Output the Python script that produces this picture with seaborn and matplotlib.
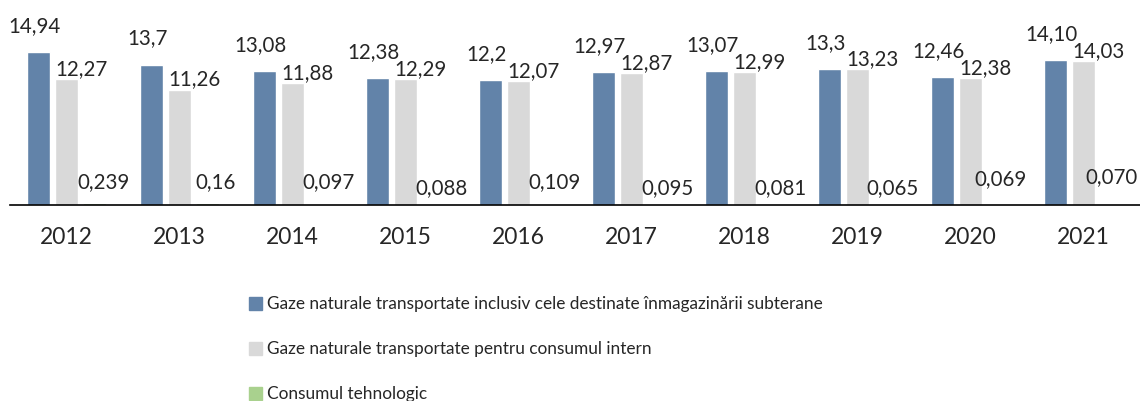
import pandas as pd
import matplotlib
matplotlib.use("Agg")
import matplotlib.pyplot as plt
import seaborn as sns

# data
years = ["2012", "2013", "2014", "2015", "2016", "2017", "2018", "2019", "2020", "2021"]
transportate = [14.94, 13.7, 13.08, 12.38, 12.2, 12.97, 13.07, 13.3, 12.46, 14.10]
consum_intern = [12.27, 11.26, 11.88, 12.29, 12.07, 12.87, 12.99, 13.23, 12.38, 14.03]
consum_tehnologic = [0.239, 0.16, 0.097, 0.088, 0.109, 0.095, 0.081, 0.065, 0.069, 0.070]

lbl_transportate = ["14,94", "13,7", "13,08", "12,38", "12,2", "12,97", "13,07", "13,3", "12,46", "14,10"]
lbl_intern = ["12,27", "11,26", "11,88", "12,29", "12,07", "12,87", "12,99", "13,23", "12,38", "14,03"]
lbl_tehnologic = ["0,239", "0,16", "0,097", "0,088", "0,109", "0,095", "0,081", "0,065", "0,069", "0,070"]

series_names = [
    "Gaze naturale transportate inclusiv cele destinate înmagazinării subterane",
    "Gaze naturale transportate pentru consumul intern",
    "Consumul tehnologic",
]
colors = ["#6283A9", "#D9D9D9", "#A9D18E"]

df = pd.DataFrame({
    "an": years * 3,
    "serie": [series_names[0]] * 10 + [series_names[1]] * 10 + [series_names[2]] * 10,
    "valoare": transportate + consum_intern + consum_tehnologic,
})

sns.set_style("white")
plt.rcParams["font.family"] = ["Lato", "DejaVu Sans"]

fig = plt.figure(figsize=(11.4, 4.01), dpi=100)
ax = fig.add_axes([10 / 1140, 1 - 205 / 401, 1 - 10 / 1140, 205 / 401])

sns.barplot(data=df, x="an", y="valoare", hue="serie", hue_order=series_names,
            palette=colors, width=0.75, gap=0.2, saturation=1, ax=ax, legend=False)

ax.set_ylim(0, 20)
ax.set_xlim(-0.5, 9.5)
ax.set_xlabel("")
ax.set_ylabel("")
ax.set_yticks([])
for s in ["top", "right", "left"]:
    ax.spines[s].set_visible(False)
ax.spines["bottom"].set_color("black")
ax.spines["bottom"].set_linewidth(1.2)
ax.tick_params(axis="x", length=0, pad=16, labelsize=16.5)

# label offsets in pixels (1 px = 0.72 pt at 100 dpi)
px = 0.72
tehno_dx = [9, 7.5, 7.5, 7.5, 7.5, 7.5, 7.5, 7, 2, 0]
tehno_dy = [23, 23, 23, 17, 23, 17, 17, 17, 26, 27.5]
for i in range(len(years)):
    ax.annotate(lbl_transportate[i], (i - 0.25, transportate[i]), xytext=(-4 * px, 26 * px),
                textcoords="offset points", ha="center", va="center", fontsize=14.8,
                annotation_clip=False)
    ax.annotate(lbl_intern[i], (i, consum_intern[i]), xytext=(15 * px, 10 * px),
                textcoords="offset points", ha="center", va="center", fontsize=14.8,
                annotation_clip=False)
    ax.annotate(lbl_tehnologic[i], (i + 0.25, 0), xytext=(tehno_dx[i] * px, tehno_dy[i] * px),
                textcoords="offset points", ha="center", va="center", fontsize=14.8,
                annotation_clip=False)

handles = [plt.Rectangle((0, 0), 1, 1, color=c) for c in colors]
fig.legend(handles, series_names, loc="upper left", bbox_to_anchor=(233 / 1140, 1 - 281 / 401),
           frameon=False, fontsize=12.4, handlelength=0.8, handleheight=0.8,
           handletextpad=0.3, labelspacing=1.68)

plt.savefig("out.png", dpi=100)
